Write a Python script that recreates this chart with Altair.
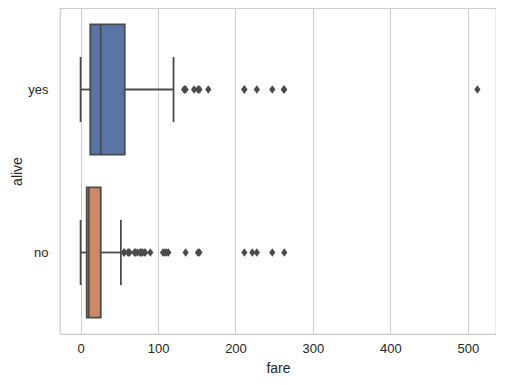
import altair as alt
import pandas as pd

groups = ["yes", "no"]
q1 = [12.475, 7.854]
median = [26.0, 10.5]
q3 = [57.0, 26.0]
whisk_lo = [0.0, 0.0]
whisk_hi = [120.0, 52.0]
box_colors = ["#5975a4", "#cc8963"]

out_yes = [133.65, 134.5, 135.63, 146.52, 151.55, 153.46, 164.87, 211.34, 211.5,
           227.53, 247.52, 262.38, 263.0, 512.33]
out_no = [55.9, 56.5, 61.18, 61.98, 63.36, 69.55, 71.0, 73.5, 77.0, 77.29, 79.2, 79.65,
          82.17, 83.48, 90.0, 106.43, 108.9, 110.88, 113.28, 135.63, 151.55, 153.46,
          211.5, 221.78, 227.53, 247.52, 263.0]

LINE = "#4b4b4b"
rows = []
for i, g in enumerate(groups):
    rows.append(dict(g=g, idx=i, q1=q1[i], med=median[i], q3=q3[i], lo=whisk_lo[i],
                     hi=whisk_hi[i], col=box_colors[i],
                     yb0=i - 0.4, yb1=i + 0.4, yc0=i - 0.2, yc1=i + 0.2))
box_df = pd.DataFrame(rows)
pts = pd.DataFrame(
    [dict(g="yes", idx=0, fare=v) for v in out_yes]
    + [dict(g="no", idx=1, fare=v) for v in out_no]
)

xscale = alt.Scale(domain=[-26.6, 536.4], nice=False, zero=False)
yscale = alt.Scale(domain=[-0.5, 1.5], reverse=True, nice=False, zero=False)

xax = alt.Axis(title="fare", values=[0, 100, 200, 300, 400, 500], grid=True,
               gridColor="#cccccc", gridWidth=1, domain=False, ticks=False,
               labelFontSize=13, titleFontSize=14, labelColor="#262626",
               titleColor="#262626", labelPadding=8, titlePadding=6,
               labelFont="Liberation Sans", titleFont="Liberation Sans", titleFontWeight="normal")
yax = alt.Axis(title="alive", values=[0, 1],
               labelExpr="datum.value == 0 ? 'yes' : 'no'", grid=False, domain=False,
               ticks=False, labelFontSize=13, titleFontSize=14, labelColor="#262626",
               titleColor="#262626", labelPadding=12, titlePadding=3,
               labelFont="Liberation Sans", titleFont="Liberation Sans", titleFontWeight="normal")

base = alt.Chart(box_df)

whisk_lo_line = base.mark_rule(color=LINE, strokeWidth=1.8).encode(
    x=alt.X("lo:Q", scale=xscale, axis=xax), x2="q1:Q",
    y=alt.Y("idx:Q", scale=yscale, axis=yax))
whisk_hi_line = base.mark_rule(color=LINE, strokeWidth=1.8).encode(
    x=alt.X("q3:Q", scale=xscale), x2="hi:Q", y=alt.Y("idx:Q", scale=yscale))
cap_lo = base.mark_rule(color=LINE, strokeWidth=1.8).encode(
    x=alt.X("lo:Q", scale=xscale), y=alt.Y("yc0:Q", scale=yscale), y2="yc1:Q")
cap_hi = base.mark_rule(color=LINE, strokeWidth=1.8).encode(
    x=alt.X("hi:Q", scale=xscale), y=alt.Y("yc0:Q", scale=yscale), y2="yc1:Q")
boxes = base.mark_rect(stroke=LINE, strokeWidth=1.8).encode(
    x=alt.X("q1:Q", scale=xscale), x2="q3:Q",
    y=alt.Y("yb0:Q", scale=yscale), y2="yb1:Q",
    fill=alt.Fill("col:N", scale=None))
med = base.mark_rule(color=LINE, strokeWidth=1.8).encode(
    x=alt.X("med:Q", scale=xscale), y=alt.Y("yb0:Q", scale=yscale), y2="yb1:Q")
outl = alt.Chart(pts).mark_point(
    shape="M0,-1L0.72,0L0,1L-0.72,0Z", filled=True, color=LINE, opacity=1, size=75
).encode(x=alt.X("fare:Q", scale=xscale), y=alt.Y("idx:Q", scale=yscale))

chart = alt.layer(whisk_lo_line, whisk_hi_line, cap_lo, cap_hi, boxes, med, outl).properties(
    width=436, height=326,
    autosize=alt.AutoSizeParams(type="none"),
    padding={"left": 52, "top": 0, "right": 0, "bottom": 43},
    background="white",
).configure_view(stroke="#cccccc", strokeWidth=1.25)

chart.save("out.html", embed_options={"renderer": "svg", "actions": False})
